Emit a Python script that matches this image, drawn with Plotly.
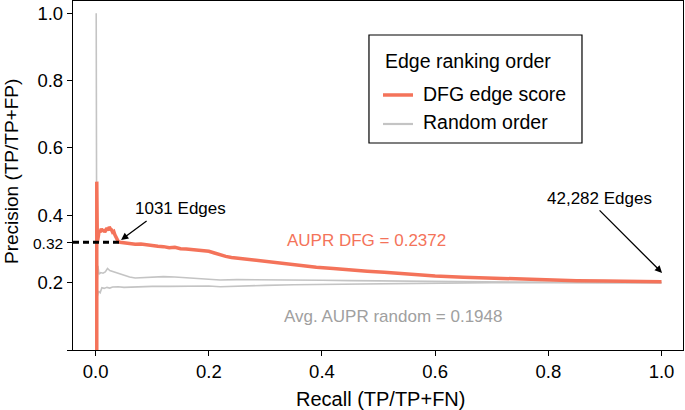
import plotly.graph_objects as go

# ---------------- data ----------------
dfg_recall = [0.002, 0.002, 0.003, 0.005, 0.006, 0.008, 0.010, 0.012, 0.014, 0.016, 0.018,
              0.020, 0.022, 0.024, 0.026, 0.028, 0.030, 0.032, 0.034, 0.036, 0.038, 0.040,
              0.043, 0.05, 0.06, 0.07, 0.08, 0.09, 0.10, 0.11, 0.12, 0.13, 0.14, 0.15, 0.16,
              0.17, 0.18, 0.19, 0.20, 0.21, 0.22, 0.23, 0.24, 0.26, 0.28, 0.30, 0.33, 0.36,
              0.39, 0.42, 0.45, 0.48, 0.51, 0.54, 0.57, 0.60, 0.65, 0.70, 0.75, 0.80, 0.85,
              0.90, 0.95, 1.0]
dfg_precision = [0.0, 0.5, 0.32, 0.34, 0.355, 0.35, 0.36, 0.352, 0.358, 0.35, 0.356,
                 0.362, 0.355, 0.365, 0.36, 0.357, 0.35, 0.352, 0.342, 0.335, 0.327, 0.322,
                 0.32, 0.318, 0.316, 0.314, 0.315, 0.312, 0.311, 0.308, 0.307, 0.304, 0.305,
                 0.301, 0.300, 0.298, 0.297, 0.296, 0.293, 0.288, 0.282, 0.278, 0.275, 0.271,
                 0.267, 0.263, 0.257, 0.251, 0.246, 0.242, 0.237, 0.234, 0.231, 0.227, 0.223,
                 0.220, 0.216, 0.213, 0.210, 0.208, 0.206, 0.205, 0.204, 0.203]

rand_hi_recall = [0.001, 0.002, 0.004, 0.006, 0.009, 0.013, 0.017, 0.021, 0.025, 0.03, 0.035,
                  0.04, 0.05, 0.06, 0.07, 0.08, 0.10, 0.12, 0.14, 0.16, 0.18, 0.20, 0.22, 0.25,
                  0.30, 0.35, 0.40, 0.45, 0.50, 0.60, 0.70, 0.80, 0.90, 1.0]
rand_hi_precision = [1.0, 0.18, 0.25, 0.225, 0.23, 0.228, 0.232, 0.242, 0.236, 0.233, 0.23,
                     0.229, 0.222, 0.217, 0.214, 0.215, 0.216, 0.218, 0.217, 0.215, 0.213,
                     0.210, 0.208, 0.209, 0.209, 0.208, 0.207, 0.206, 0.205, 0.203, 0.202,
                     0.201, 0.200, 0.200]

rand_lo_recall = [0.002, 0.003, 0.005, 0.008, 0.011, 0.015, 0.02, 0.025, 0.03, 0.04, 0.05,
                  0.06, 0.08, 0.10, 0.13, 0.16, 0.20, 0.22, 0.25, 0.30, 0.35, 0.40, 0.45,
                  0.50, 0.60, 0.70, 0.80, 0.90, 1.0]
rand_lo_precision = [0.25, 0.16, 0.175, 0.17, 0.185, 0.183, 0.186, 0.184, 0.187, 0.188, 0.186,
                     0.187, 0.188, 0.189, 0.189, 0.190, 0.190, 0.188, 0.190, 0.192, 0.194,
                     0.195, 0.197, 0.198, 0.199, 0.200, 0.200, 0.200, 0.200]

cutoff_recall = [-0.04, 0.043]
cutoff_precision = [0.32, 0.32]

x_ticks = [0.0, 0.2, 0.4, 0.6, 0.8, 1.0]
x_ticklabels = ["0.0", "0.2", "0.4", "0.6", "0.8", "1.0"]
y_ticks = [0.0, 0.2, 0.32, 0.4, 0.6, 0.8, 1.0]
y_ticklabels = ["", "0.2", "<span style='font-size:15.5px'>0.32</span>", "0.4", "0.6", "0.8", "1.0"]

legend_title = "Edge ranking order"
series_names = ["DFG edge score", "Random order"]

RED = "#F4735A"
GRAY = "#C4C4C4"
FONT = "Liberation Sans, Arial, Helvetica, sans-serif"

fig = go.Figure()
fig.add_trace(go.Scatter(x=rand_hi_recall, y=rand_hi_precision, mode="lines",
                         line=dict(color=GRAY, width=1.6), name=series_names[1],
                         showlegend=False))
fig.add_trace(go.Scatter(x=rand_lo_recall, y=rand_lo_precision, mode="lines",
                         line=dict(color=GRAY, width=1.6), showlegend=False))
fig.add_trace(go.Scatter(x=dfg_recall, y=dfg_precision, mode="lines",
                         line=dict(color=RED, width=3.5), name=series_names[0],
                         showlegend=False))
fig.add_trace(go.Scatter(x=cutoff_recall, y=cutoff_precision, mode="lines",
                         line=dict(color="black", width=3, dash="6px,4px"),
                         showlegend=False, cliponaxis=False))

# ---- legend (drawn by hand for exact placement) ----
fig.add_shape(type="rect", xref="paper", yref="paper", x0=0.4852, x1=0.8344,
              y0=0.5931, y1=0.9026, line=dict(color="black", width=1.2),
              fillcolor="white", layer="above")
fig.add_annotation(xref="paper", yref="paper", x=0.5082, y=0.8295,
                   xanchor="left", yanchor="middle",
                   text=legend_title, showarrow=False, font=dict(size=19.5, color="black"))
fig.add_shape(type="line", xref="paper", yref="paper", x0=0.5082, x1=0.5574,
              y0=0.7307, y1=0.7307, line=dict(color=RED, width=3.5))
fig.add_shape(type="line", xref="paper", yref="paper", x0=0.5082, x1=0.5574,
              y0=0.6476, y1=0.6476, line=dict(color=GRAY, width=2.2))
fig.add_annotation(xref="paper", yref="paper", x=0.5705, y=0.7335,
                   xanchor="left", yanchor="middle",
                   text=series_names[0], showarrow=False, font=dict(size=19.5, color="black"))
fig.add_annotation(xref="paper", yref="paper", x=0.5705, y=0.6542,
                   xanchor="left", yanchor="middle",
                   text=series_names[1], showarrow=False, font=dict(size=19.5, color="black"))

# ---- annotations ----
fig.add_annotation(x=0.045, y=0.327, ax=27, ay=-20, text="", showarrow=True,
                   arrowhead=2, arrowsize=1.1, arrowwidth=1.3, arrowcolor="black")
fig.add_annotation(x=0.1493, y=0.4209, text="1031 Edges", showarrow=False,
                   xanchor="center", yanchor="middle",
                   font=dict(size=17, color="black"))
fig.add_annotation(x=1.001, y=0.229, ax=-64, ay=-64, text="", showarrow=True,
                   arrowhead=2, arrowsize=1.1, arrowwidth=1.3, arrowcolor="black")
fig.add_annotation(x=0.891, y=0.4485, text="42,282 Edges", showarrow=False,
                   xanchor="center", yanchor="middle",
                   font=dict(size=17, color="black"))
fig.add_annotation(x=0.478, y=0.3267, text="AUPR DFG = 0.2372", showarrow=False,
                   xanchor="center", yanchor="middle",
                   font=dict(size=17, color=RED))
fig.add_annotation(x=0.5256, y=0.0989, text="Avg. AUPR random = 0.1948", showarrow=False,
                   xanchor="center", yanchor="middle",
                   font=dict(size=17, color="#A0A0A0"))

# axis titles
fig.add_annotation(xref="paper", yref="paper", x=0.5033, y=-0.1395,
                   xanchor="center", yanchor="middle",
                   text="Recall (TP/TP+FN)", showarrow=False,
                   font=dict(size=20, color="black"))
fig.add_annotation(xref="paper", yref="paper", x=-0.1016, y=0.51, textangle=-90,
                   xanchor="center", yanchor="middle",
                   text="Precision (TP/TP+FP)", showarrow=False,
                   font=dict(size=19, color="black"))

fig.update_layout(
    width=685, height=410,
    margin=dict(l=73, r=2, t=1, b=60),
    plot_bgcolor="white", paper_bgcolor="white",
    font=dict(family=FONT, size=18.5, color="black"),
    showlegend=False,
    xaxis=dict(
        range=[-0.04, 1.038], tickvals=x_ticks, ticktext=x_ticklabels,
        showline=True, linecolor="black", linewidth=1.3, mirror=True,
        ticks="outside", ticklen=5, tickwidth=1.3, tickcolor="black",
        showgrid=False, zeroline=False, automargin=False,
    ),
    yaxis=dict(
        range=[0, 1.0365], tickvals=y_ticks, ticktext=y_ticklabels,
        showline=True, linecolor="black", linewidth=1.3, mirror=True,
        ticks="outside", ticklen=5, tickwidth=1.3, tickcolor="black",
        showgrid=False, zeroline=False, automargin=False,
    ),
)

fig.write_html("out.html", config={"displayModeBar": False},
               post_script="document.body.style.margin='0px';")
